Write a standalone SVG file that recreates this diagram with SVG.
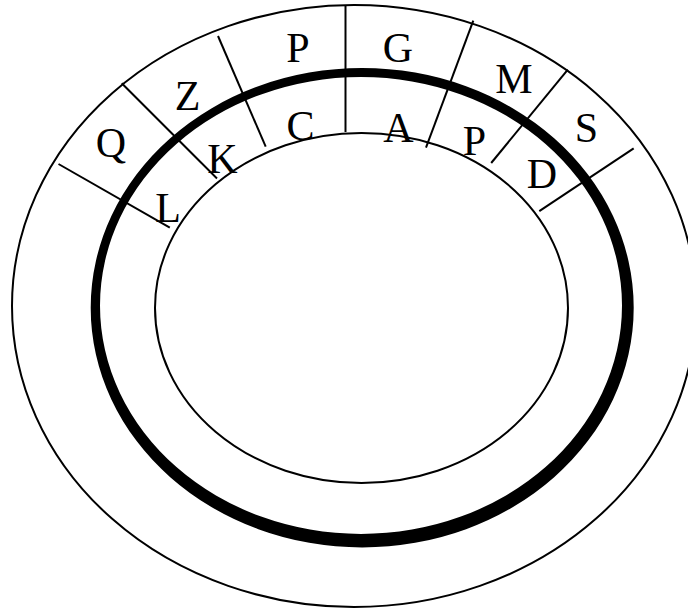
<svg xmlns="http://www.w3.org/2000/svg" width="688" height="612" viewBox="0 0 688 612">
<style>
.thin{fill:none;stroke:#000;stroke-width:2}
.div{stroke:#000;stroke-width:2;fill:none}
.lbl{font-family:"Liberation Serif","Times New Roman",serif;font-size:42px;fill:#000;text-anchor:middle}
</style>
<rect width="688" height="612" fill="#fff"/>
<g id="rings">
<ellipse id="outer" class="thin" cx="354" cy="306" rx="342" ry="301"/>
<path id="thick" fill="#000" fill-rule="evenodd" d="M90.7,307.7 A271.5,239.7 0 1,0 633.7,307.7 A271.5,239.7 0 1,0 90.7,307.7 Z M100,305.5 A261,228.5 0 1,1 622,305.5 A261,228.5 0 1,1 100,305.5 Z"/>
<ellipse id="inner" class="thin" cx="361.5" cy="308" rx="206.5" ry="175"/>
</g>
<g id="dividers">
<line class="div" x1="345.5" y1="5" x2="345.5" y2="132"/>
<line class="div" x1="218" y1="36" x2="265.7" y2="146.7"/>
<line class="div" x1="121.7" y1="83.3" x2="217" y2="178.5"/>
<line class="div" x1="58.5" y1="164" x2="169.8" y2="227.7"/>
<line class="div" x1="473.3" y1="20.7" x2="426" y2="147.7"/>
<line class="div" x1="567.8" y1="69.6" x2="491.2" y2="163"/>
<line class="div" x1="633.7" y1="148.3" x2="539.3" y2="211.2"/>
</g>
<g id="labels">
<text class="lbl" x="298" y="61.7">P</text>
<text class="lbl" x="398" y="62">G</text>
<text class="lbl" x="187.5" y="110">Z</text>
<text class="lbl" x="111" y="157">Q</text>
<text class="lbl" x="514" y="93.3">M</text>
<text class="lbl" x="586.5" y="141.7">S</text>
<text class="lbl" x="300.5" y="140">C</text>
<text class="lbl" x="398.5" y="141.7">A</text>
<text class="lbl" x="222.5" y="173.3">K</text>
<text class="lbl" x="474.5" y="155">P</text>
<text class="lbl" x="542" y="188.3">D</text>
<text class="lbl" x="168" y="221.7">L</text>
</g>
</svg>
